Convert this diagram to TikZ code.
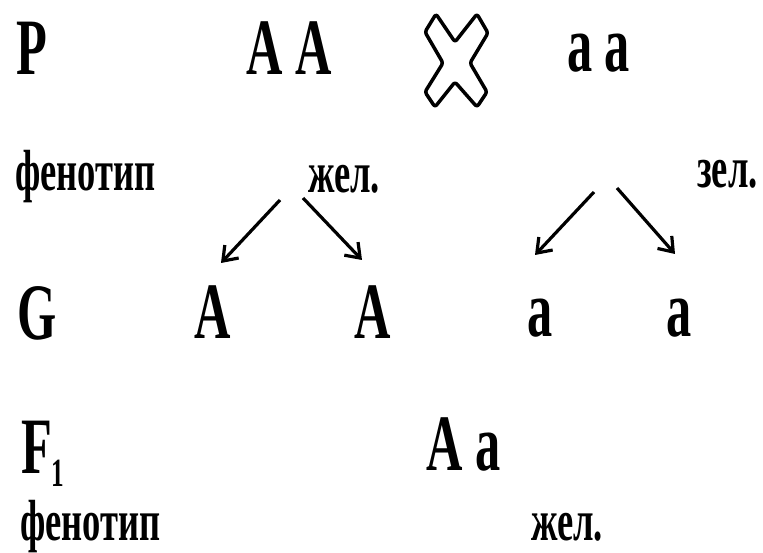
\documentclass[tikz,border=0pt]{standalone}
\usepackage{fontspec}
\usetikzlibrary{arrows.meta}
\newfontfamily\bigf[FakeStretch=0.63]{Liberation Serif Bold}
\begin{document}
\begin{tikzpicture}[x=1pt,y=-1pt,
  big/.style={font=\bigf\fontsize{80}{80}\selectfont, anchor=base west, inner sep=0pt},
  small/.style={font=\bigf\fontsize{58}{58}\selectfont, anchor=base west, inner sep=0pt},
  arr/.style={line width=3.2pt, -{Straight Barb[length=13pt,width=19pt,line width=3.2pt]}},
  crossline/.style={line width=3.5pt, rounded corners=2.5pt, line join=round}]
\useasboundingbox[fill=white] (0,0) rectangle (763,553);
% row P
\node[big] (P) at (16,75) {P};
\node[big] (AA) at (246,75) {A A};
\node[big] (aa) at (567,72) {a a};
\draw[crossline] (436,14) -- (455,42) -- (477,14) -- (488,33) -- (470,63) -- (487,92)
  -- (477,107) -- (455,82) -- (435,107) -- (425,92) -- (443,63) -- (425,32) -- cycle;
% phenotype row
\node[small] (fen1) at (15,191) {фенотип};
\node[small] (zhel1) at (308,193) {жел.};
\node[small] (zel) at (697,188) {зел.};
% G row
\node[big] (G) at (17,340) {G};
\node[big] (A1) at (194,338) {A};
\node[big] (A2) at (354,338) {A};
\node[big] (a1) at (527,337) {a};
\node[big] (a2) at (666,337) {a};
% arrows
\coordinate (s1) at (280,200);
\coordinate (t1) at (221,263);
\coordinate (s2) at (303,198);
\coordinate (t2) at (362,260);
\coordinate (s3) at (594,192);
\coordinate (t3) at (535,255);
\coordinate (s4) at (617,188);
\coordinate (t4) at (675,254);
\draw[arr] (s1) -- (t1);
\draw[arr] (s2) -- (t2);
\draw[arr] (s3) -- (t3);
\draw[arr] (s4) -- (t4);
% F1 row
\node[big] (F) at (21,473) {F};
\node[font=\bigf\fontsize{40}{40}\selectfont, anchor=base west, inner sep=0pt] (F1) at (51,486) {1};
\node[big] (Aa) at (426,470) {A a};
\node[small] (fen2) at (20,540) {фенотип};
\node[small] (zhel2) at (531,540) {жел.};
\end{tikzpicture}
\end{document}
